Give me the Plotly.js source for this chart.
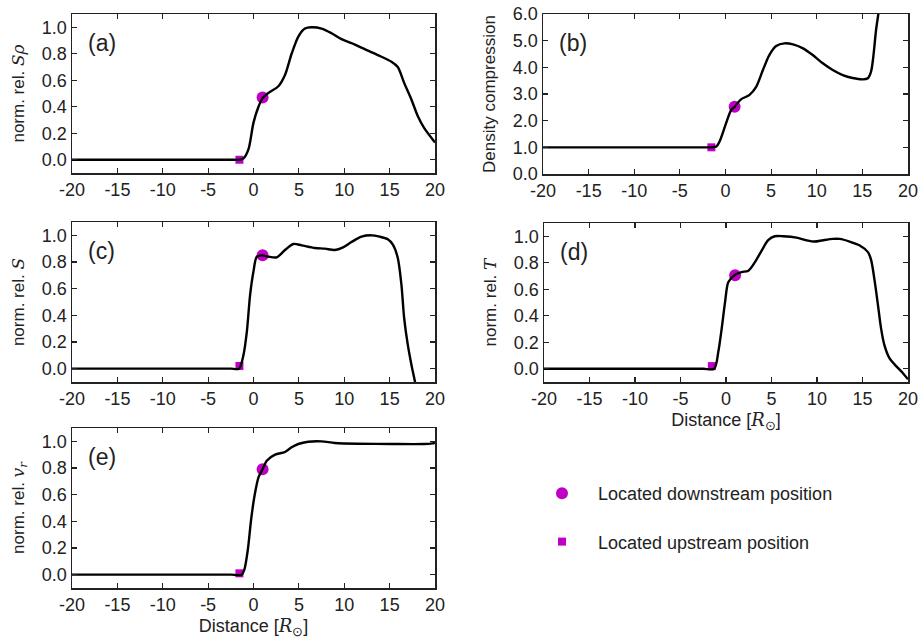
<!DOCTYPE html>
<html>
<head>
<meta charset="utf-8">
<script src="https://cdn.plot.ly/plotly-3.0.1.min.js"></script>
<style>html,body{margin:0;padding:0;background:#fff;}#chart{width:918px;height:639px;}</style>
</head>
<body>
<div id="chart"></div>
<script>
// ---- data ----
const distA = [-20, -15, -10, -5, -2.5, -1.5, -1.1, -0.55, 0, 0.55, 1.0, 1.65, 2.74, 3.47, 4.2, 4.94, 5.67, 6.4, 7.5, 8.6, 9.7, 10.8, 12.25, 13.7, 15.2, 15.9, 16.6, 17.4, 18.1, 18.8, 20];
const valA  = [0, 0, 0, 0, 0, 0, 0.01, 0.08, 0.28, 0.4, 0.465, 0.505, 0.555, 0.64, 0.8, 0.93, 0.99, 1.0, 0.99, 0.955, 0.91, 0.88, 0.835, 0.79, 0.74, 0.70, 0.58, 0.455, 0.33, 0.24, 0.13];

const distB = [-20, -15, -10, -5, -2.5, -1.5, -1.0, -0.66, 0, 0.62, 1.0, 1.7, 2.6, 3.36, 4.1, 4.8, 5.55, 6.46, 7.4, 8.5, 9.56, 10.66, 11.75, 12.85, 13.94, 15.04, 15.6, 15.95, 16.2, 16.5, 16.75, 17.0];
const valB  = [1, 1, 1, 1, 1, 1, 1.03, 1.21, 1.84, 2.4, 2.52, 2.8, 2.96, 3.27, 3.9, 4.46, 4.8, 4.9, 4.86, 4.71, 4.46, 4.15, 3.9, 3.71, 3.6, 3.55, 3.59, 3.84, 4.4, 5.4, 6.0, 6.6];

const distC = [-20, -15, -10, -5, -2.5, -1.6, -1.1, -0.73, -0.37, 0, 0.37, 1.0, 1.65, 2.56, 3.47, 4.39, 5.3, 6.76, 7.86, 8.96, 9.87, 10.8, 11.9, 13.0, 13.9, 14.8, 15.36, 15.9, 16.3, 16.6, 17.0, 17.4, 17.8, 18.1];
const valC  = [0, 0, 0, 0, 0, 0, 0.105, 0.28, 0.555, 0.73, 0.84, 0.85, 0.84, 0.835, 0.89, 0.935, 0.925, 0.905, 0.9, 0.89, 0.91, 0.95, 0.99, 1.0, 0.99, 0.97, 0.93, 0.83, 0.63, 0.38, 0.18, 0.03, -0.1, -0.2];

const distD = [-20, -15, -10, -5, -2.5, -1.3, -0.84, -0.47, -0.1, 0.26, 1.0, 1.7, 2.45, 3.18, 3.9, 4.64, 5.36, 6.28, 7.74, 8.83, 9.74, 10.66, 11.75, 12.5, 13.58, 14.7, 15.6, 15.95, 16.3, 16.7, 17.04, 17.4, 17.96, 18.7, 19.4, 20];
const valD  = [0, 0, 0, 0, 0, 0, 0.13, 0.305, 0.505, 0.655, 0.71, 0.73, 0.74, 0.805, 0.89, 0.97, 1.0, 1.0, 0.99, 0.97, 0.96, 0.97, 0.98, 0.98, 0.96, 0.93, 0.88, 0.82, 0.68, 0.48, 0.305, 0.18, 0.08, 0.02, -0.03, -0.08];

const distE = [-20, -15, -10, -5, -2.5, -1.3, -1.0, -0.62, -0.26, 0.11, 0.55, 1.0, 1.46, 2.38, 3.47, 4.2, 4.94, 6.03, 7.5, 8.96, 11.5, 15.2, 18.8, 19.7, 20];
const valE  = [0, 0, 0, 0, 0, 0, 0.04, 0.19, 0.415, 0.59, 0.73, 0.79, 0.855, 0.9, 0.92, 0.955, 0.98, 0.997, 1.0, 0.988, 0.982, 0.98, 0.98, 0.985, 0.99];

const downstreamX = [1.0, 1.0, 1.0, 1.0, 1.0];
const downstreamY = [0.47, 2.52, 0.85, 0.705, 0.79];
const upstreamX   = [-1.55, -1.55, -1.55, -1.55, -1.55];
const upstreamY   = [0.0, 1.0, 0.02, 0.02, 0.01];

const panelLabels = ['(a)', '(b)', '(c)', '(d)', '(e)'];
const yTitles = [
  "norm. rel. <i><span style='font-family:DejaVu Serif'>Sρ</span></i>",
  "Density compression",
  "norm. rel. <i><span style='font-family:DejaVu Serif'>S</span></i>",
  "norm. rel. <i><span style='font-family:DejaVu Serif'>T</span></i>",
  "norm. rel. <i><span style='font-family:DejaVu Serif'>v<sub>r</sub></span></i>"
];
const xTitle = "Distance [<i><span style='font-family:DejaVu Serif'>R</span></i><sub>⊙</sub>]";
const xTickVals = [-20, -15, -10, -5, 0, 5, 10, 15, 20];

// ---- layout geometry (pixels) ----
const W = 918, H = 639;
const boxes = [
  {x0: 72, x1: 435, y0: 14, y1: 173},
  {x0: 543, x1: 908, y0: 14, y1: 174},
  {x0: 72, x1: 435, y0: 222, y1: 382},
  {x0: 544, x1: 908, y0: 223, y1: 382},
  {x0: 72, x1: 435, y0: 428, y1: 588}
];
const xTitleStandoff = [0, 0, 0, 2, 0];
const dists = [distA, distB, distC, distD, distE];
const vals = [valA, valB, valC, valD, valE];
const magenta = '#c000c4';

const traces = [];
const layout = {
  width: W, height: H,
  margin: {l: 0, r: 0, t: 0, b: 0},
  paper_bgcolor: '#fff', plot_bgcolor: '#fff',
  font: {family: 'Liberation Sans, Arial, sans-serif', size: 17, color: '#222'},
  showlegend: true,
  legend: {x: 526 / W, y: 1 - 475 / H, xanchor: 'left', yanchor: 'top', itemwidth: 62,
           font: {size: 18, color: '#222'}, tracegroupgap: 22, bgcolor: 'rgba(0,0,0,0)'},
  annotations: [],
  hovermode: false
};

for (let i = 0; i < 5; i++) {
  const n = i === 0 ? '' : String(i + 1);
  const xa = 'x' + n, ya = 'y' + n;
  traces.push({
    x: [downstreamX[i]], y: [downstreamY[i]], xaxis: xa, yaxis: ya,
    type: 'scatter', mode: 'markers', name: 'Located downstream position',
    legendgroup: 'down', showlegend: i === 0,
    marker: {symbol: 'circle', size: 12, color: magenta}, cliponaxis: false
  });
  traces.push({
    x: [upstreamX[i]], y: [upstreamY[i]], xaxis: xa, yaxis: ya,
    type: 'scatter', mode: 'markers', name: 'Located upstream position',
    legendgroup: 'up', showlegend: i === 0,
    marker: {symbol: 'square', size: 8, color: magenta}, cliponaxis: false
  });
  traces.push({
    x: dists[i], y: vals[i], xaxis: xa, yaxis: ya,
    type: 'scatter', mode: 'lines', showlegend: false,
    line: {color: '#000', width: 2.4, shape: 'spline', smoothing: 0.8}
  });
  const b = boxes[i];
  const axBase = {
    showline: true, linecolor: '#222', linewidth: 1.5, mirror: 'ticks',
    ticks: 'inside', ticklen: 5, tickwidth: 1.2, tickcolor: '#222',
    showgrid: false, zeroline: false, fixedrange: true,
    tickfont: {size: 18}, ticklabeloverflow: 'allow'
  };
  layout['xaxis' + n] = Object.assign({}, axBase, {
    domain: [b.x0 / W, b.x1 / W], anchor: ya, range: [-20, 20],
    tickvals: xTickVals, ticktext: xTickVals.map(String),
    title: (i === 3 || i === 4) ? {text: xTitle, font: {size: 18}, standoff: xTitleStandoff[i]} : {text: ''}
  });
  const isB = i === 1;
  layout['yaxis' + n] = Object.assign({}, axBase, {
    domain: [1 - b.y1 / H, 1 - b.y0 / H], anchor: xa,
    range: isB ? [0, 6] : [-0.1, 1.1],
    tick0: 0, dtick: isB ? 1 : 0.2, tickformat: '.1f',
    title: {text: yTitles[i], font: {size: 17}, standoff: 13}
  });
  layout.annotations.push({
    text: panelLabels[i], xref: 'paper', yref: 'paper',
    x: (b.x0 + 14) / W, y: 1 - (b.y0 + 29) / H,
    xanchor: 'left', yanchor: 'middle', showarrow: false,
    font: {size: 23, color: '#222'}
  });
}

Plotly.newPlot('chart', traces, layout, {displayModeBar: false, staticPlot: true});
</script>
</body>
</html>
